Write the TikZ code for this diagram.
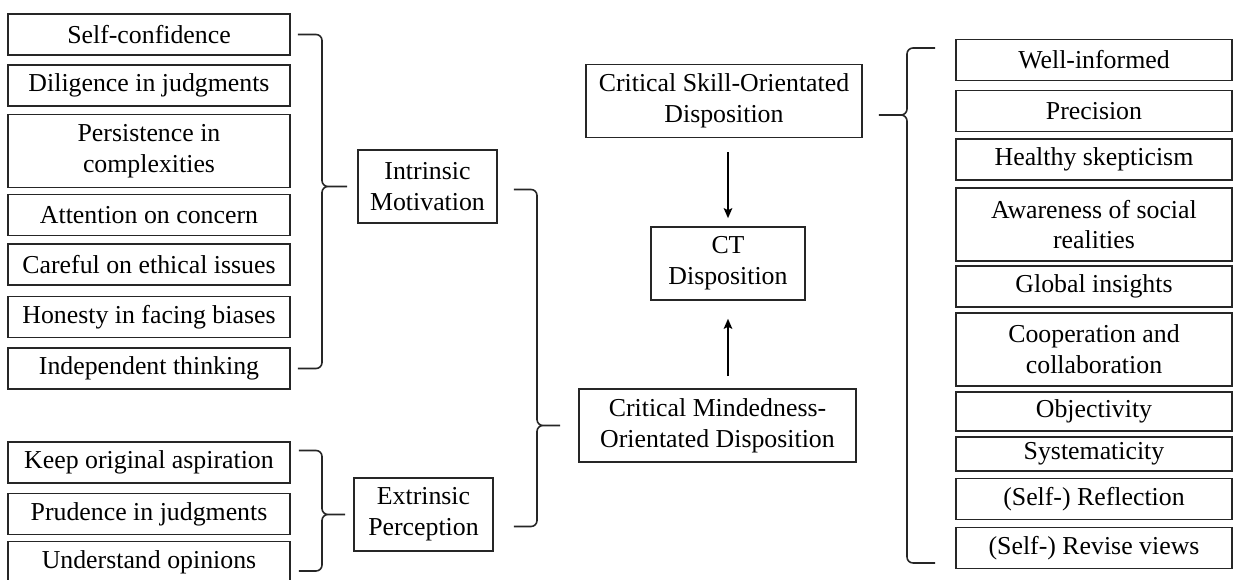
\documentclass[tikz,border=0pt]{standalone}
\usepackage{fontspec}
\setmainfont{Liberation Serif}
\usetikzlibrary{arrows.meta}

\tikzset{
  box/.style={draw=black!85, line width=0.9pt, align=center, inner sep=0pt,
    minimum height=0.82cm, font=\fontsize{14.7}{17.5}\selectfont},
  lbox/.style={box, minimum width=5.64cm},
  rbox/.style={box, minimum width=5.52cm},
  tall/.style={minimum height=1.46cm},
  brace/.style={draw=black!85, line width=0.9pt, rounded corners=0.12cm},
  arr/.style={-{Stealth[length=0.2cm,width=0.17cm,inset=0.04cm]}, line width=1.1pt},
}

\begin{document}
\begin{tikzpicture}[x=0.02cm,y=-0.02cm]
\useasboundingbox (0,0) rectangle (1235,580);

%% intrinsic items
\node[lbox] (selfconf) at (149,34.5)  {Self-confidence};
\node[lbox] (dilig)    at (149,85.5)  {Diligence in judgments};
\node[lbox,tall] (persist) at (149,151) {Persistence in\\complexities};
\node[lbox] (attent)   at (149,215)   {Attention on concern};
\node[lbox] (careful)  at (149,264.5) {Careful on ethical issues};
\node[lbox] (honest)   at (149,317)   {Honesty in facing biases};
\node[lbox] (indep)    at (149,368.5) {Independent thinking};

%% extrinsic items
\node[lbox] (keep)     at (149,462.5) {Keep original aspiration};
\node[lbox] (prud)     at (149,514)   {Prudence in judgments};
\node[lbox] (underst)  at (149,562)   {Understand opinions};

%% middle
\node[box,tall,minimum width=2.78cm] (intr) at (427.5,186.5) {Intrinsic\\Motivation};
\node[box,tall,minimum width=2.78cm] (extr) at (423.5,514.5) {Extrinsic\\Perception};
\node[box,tall,minimum width=5.54cm] (mind) at (717.5,425.5) {Critical Mindedness-\\Orientated Disposition};
\node[box,tall,minimum width=3.08cm] (ct)   at (728,263.5)   {CT\\Disposition};
\node[box,tall,minimum width=5.52cm] (skill) at (724,101)    {Critical Skill-Orientated\\Disposition};

%% skill items
\node[rbox] (wellinf)  at (1094,60)    {Well-informed};
\node[rbox] (precis)   at (1094,111)   {Precision};
\node[rbox] (healthy)  at (1094,159.5) {Healthy skepticism};
\node[rbox,tall] (aware) at (1094,224.5) {Awareness of social\\realities};
\node[rbox] (global)   at (1094,286.5) {Global insights};
\node[rbox,tall] (coop) at (1094,349.5) {Cooperation and\\collaboration};
\node[rbox,minimum height=0.78cm] (object) at (1094,411.5) {Objectivity};
\node[rbox,minimum height=0.68cm] (system) at (1094,454)   {Systematicity};
\node[rbox] (reflect)  at (1094,499)   {(Self-) Reflection};
\node[rbox] (revise)   at (1094,548)   {(Self-) Revise views};

%% braces
\coordinate (v1) at (322,0);
\coordinate (t1) at ([xshift=-0.2cm]intr.west);
\draw[brace] ([xshift=0.14cm]selfconf.east) -| (v1 |- t1) -- (t1)
  (t1) -- (v1 |- t1) |- ([xshift=0.14cm]indep.east);

\coordinate (v2) at (322,0);
\coordinate (t2) at ([xshift=-0.16cm]extr.west);
\draw[brace] ([xshift=0.16cm,yshift=0.24cm]keep.east) -| (v2 |- t2) -- (t2)
  (t2) -- (v2 |- t2) |- ([xshift=0.16cm,yshift=-0.18cm]underst.east);

\coordinate (v3) at (537,0);
\coordinate (t3) at ([xshift=-0.36cm]mind.west);
\draw[brace] ([xshift=0.32cm,yshift=-0.06cm]intr.east) -| (v3 |- t3) -- (t3)
  (t3) -- (v3 |- t3) |- ([xshift=0.4cm,yshift=-0.24cm]extr.east);

\coordinate (v4) at (907,0);
\coordinate (t4) at ([xshift=0.32cm,yshift=-0.28cm]skill.east);
\draw[brace] ([xshift=-0.4cm,yshift=0.24cm]wellinf.west) -| (v4 |- t4) -- (t4)
  (t4) -- (v4 |- t4) |- ([xshift=-0.4cm,yshift=-0.3cm]revise.west);

%% arrows
\draw[arr, shorten <=0.28cm, shorten >=0.16cm] (ct.north |- skill.south) -- (ct.north);
\draw[arr, shorten <=0.24cm, shorten >=0.36cm] (ct.south |- mind.north) -- (ct.south);

\end{tikzpicture}
\end{document}
